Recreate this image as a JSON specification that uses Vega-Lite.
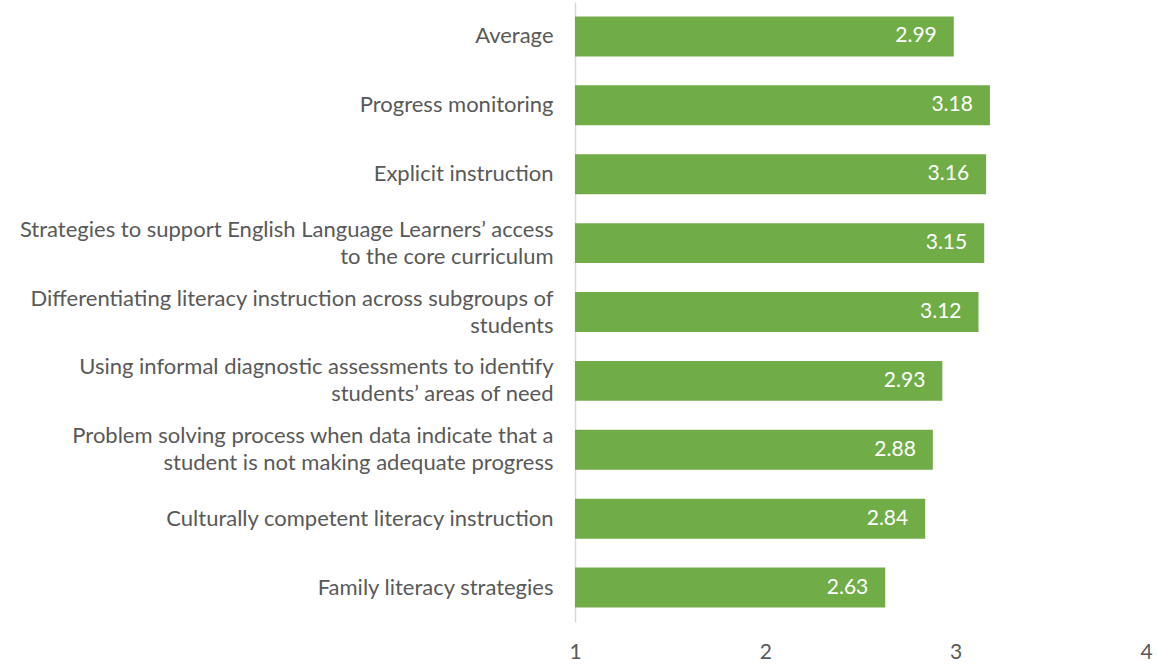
{
  "$schema": "https://vega.github.io/schema/vega-lite/v6.json",
  "autosize": "none",
  "padding": {"left": 575, "top": 2, "right": 12, "bottom": 43},
  "width": 571,
  "height": 620,
  "background": "white",
  "config": {"view": {"stroke": null}, "font": "Lato"},
  "data": {"values": [
    {"item": "Average", "score": 2.99},
    {"item": "Progress monitoring", "score": 3.18},
    {"item": "Explicit instruction", "score": 3.16},
    {"item": "Strategies to support English Language Learners’ access|to the core curriculum", "score": 3.15},
    {"item": "Differentiating literacy instruction across subgroups of|students", "score": 3.12},
    {"item": "Using informal diagnostic assessments to identify|students’ areas of need", "score": 2.93},
    {"item": "Problem solving process when data indicate that a|student is not making adequate progress", "score": 2.88},
    {"item": "Culturally competent literacy instruction", "score": 2.84},
    {"item": "Family literacy strategies", "score": 2.63}
  ]},
  "encoding": {
    "y": {
      "field": "item", "type": "nominal", "sort": null,
      "scale": {"paddingInner": 0.42, "paddingOuter": 0.21},
      "axis": {
        "title": null, "ticks": false, "domainColor": "#D9D9D9", "domainWidth": 1.5,
        "labelExpr": "split(datum.label, '|')",
        "labelOffset": {"expr": "indexof(datum.label, '|') >= 0 ? -13.5 : 0"},
        "labelFontSize": 22, "labelColor": "#595959", "labelPadding": 22,
        "labelLimit": 600, "labelLineHeight": 27, "labelFont": "Lato"
      }
    }
  },
  "layer": [
    {
      "mark": {"type": "bar", "color": "#70AD47"},
      "encoding": {
        "x": {
          "field": "score", "type": "quantitative",
          "scale": {"domain": [1, 4], "zero": false, "nice": false},
          "axis": {
            "title": null, "values": [1, 2, 3, 4], "format": "d", "domain": false, "ticks": false, "grid": false,
            "labelFontSize": 21, "labelColor": "#595959", "labelPadding": 19, "labelFont": "Lato",
            "labelFlush": false
          }
        },
        "x2": {"datum": 1}
      }
    },
    {
      "mark": {"type": "text", "align": "right", "baseline": "middle", "dx": -17, "color": "white", "fontSize": 21, "font": "Lato"},
      "encoding": {
        "x": {"field": "score", "type": "quantitative"},
        "text": {"field": "score", "type": "quantitative", "format": ".2f"}
      }
    }
  ]
}
